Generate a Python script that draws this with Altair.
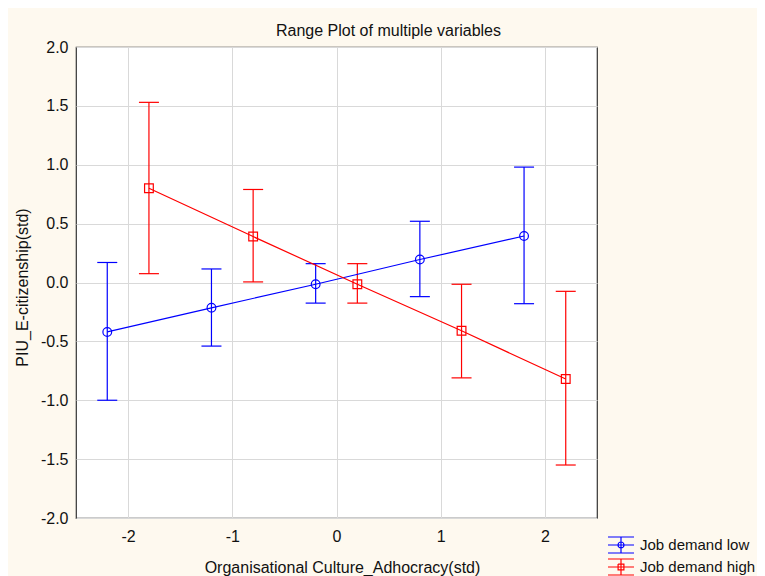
import altair as alt
import pandas as pd

# ---- data ----
series_names = ["Job demand low", "Job demand high"]
series_colors = ["#0000FF", "#FF0000"]

x_low = [-2.2, -1.2, -0.2, 0.8, 1.8]
mean_low = [-0.42, -0.215, -0.015, 0.195, 0.395]
upper_low = [0.17, 0.115, 0.16, 0.52, 0.98]
lower_low = [-1.0, -0.54, -0.175, -0.12, -0.18]

x_high = [-1.8, -0.8, 0.2, 1.2, 2.2]
mean_high = [0.80, 0.39, -0.015, -0.41, -0.82]
upper_high = [1.53, 0.79, 0.16, -0.015, -0.075]
lower_high = [0.075, 0.005, -0.175, -0.81, -1.55]

x_ticks = [-2, -1, 0, 1, 2]
y_ticks = [-2.0, -1.5, -1.0, -0.5, 0.0, 0.5, 1.0, 1.5, 2.0]

title_text = "Range Plot of multiple variables"
x_title = "Organisational Culture_Adhocracy(std)"
y_title = "PIU_E-citizenship(std)"

rows = []
for name, xs, ms, us, ls in [
    (series_names[0], x_low, mean_low, upper_low, lower_low),
    (series_names[1], x_high, mean_high, upper_high, lower_high),
]:
    for x, m, u, l in zip(xs, ms, us, ls):
        rows.append({"series": name, "x": x, "mean": m, "hi": u, "lo": l})
df = pd.DataFrame(rows)

FONT = "Liberation Sans"

# legend glyphs: cap lines, center line, vertical bar, marker
glyph_low = ("M-1.3,-0.8H1.3M-1.3,0.8H1.3M-1.3,0H1.3M0,-0.8V0.8"
             "M0.3,0A0.3,0.3 0 1,1 -0.3,0A0.3,0.3 0 1,1 0.3,0")
glyph_high = ("M-1.3,-0.8H1.3M-1.3,0.8H1.3M-1.3,0H1.3M0,-0.8V0.8"
              "M-0.29,-0.29H0.29V0.29H-0.29V-0.29")

xenc = alt.X(
    "x:Q",
    scale=alt.Scale(domain=[-2.5, 2.5], nice=False, zero=False),
    axis=alt.Axis(
        values=x_ticks,
        title=x_title,
        labelExpr="(datum.value < 0 ? '-' : '') + format(abs(datum.value), 'd')",
        labelPadding=10,
        titleX=266,
        titleY=49,
        titleAlign="center",
        titleBaseline="middle",
    ),
)
yscale = alt.Scale(domain=[-2, 2], nice=False, zero=False)
yaxis = alt.Axis(
    values=y_ticks,
    title=y_title,
    labelExpr="(datum.value < 0 ? '-' : '') + format(abs(datum.value), '.1f')",
    labelPadding=8,
    titleX=-54,
    titleY=240,
    titleAngle=270,
    titleAlign="center",
    titleBaseline="middle",
)
color_scale = alt.Scale(domain=series_names, range=series_colors)
legend = alt.Legend(
    title=None,
    orient="none",
    legendX=534,
    legendY=487,
    symbolSize=400,
    symbolStrokeWidth=1.2,
    symbolOpacity=1,
    labelFont=FONT,
    labelFontSize=15,
    labelColor="#111111",
    labelOffset=8,
    rowPadding=0,
    padding=0,
)

base = alt.Chart(df)
color_enc = alt.Color("series:N", scale=color_scale)

rules = base.mark_rule(strokeWidth=1.2).encode(
    x=xenc, y=alt.Y("lo:Q", scale=yscale, axis=yaxis), y2="hi:Q", color=color_enc
)
cap_hi = base.mark_rule(strokeWidth=1.2, xOffset=-10, x2Offset=10).encode(
    x=xenc, x2="x:Q", y=alt.Y("hi:Q", scale=yscale), color=color_enc
)
cap_lo = base.mark_rule(strokeWidth=1.2, xOffset=-10, x2Offset=10).encode(
    x=xenc, x2="x:Q", y=alt.Y("lo:Q", scale=yscale), color=color_enc
)
lines = base.mark_line(strokeWidth=1.2).encode(
    x=xenc, y=alt.Y("mean:Q", scale=yscale), color=color_enc, detail="series:N",
    order="x:Q",
)
pts_low = base.transform_filter(alt.datum.series == series_names[0]).mark_point(
    shape="circle", filled=False, size=76, strokeWidth=1.2, opacity=1
).encode(x=xenc, y=alt.Y("mean:Q", scale=yscale), color=color_enc)
pts_high = base.transform_filter(alt.datum.series == series_names[1]).mark_point(
    shape="square", filled=False, size=76, strokeWidth=1.2, opacity=1
).encode(x=xenc, y=alt.Y("mean:Q", scale=yscale), color=color_enc)

legend_layer = base.mark_point(filled=False, opacity=0).encode(
    x=xenc,
    y=alt.Y("mean:Q", scale=yscale),
    color=alt.Color("series:N", scale=color_scale, legend=legend),
    shape=alt.Shape(
        "series:N",
        scale=alt.Scale(domain=series_names, range=[glyph_low, glyph_high]),
        legend=legend,
    ),
)

chart = (
    alt.layer(legend_layer, rules, cap_hi, cap_lo, lines, pts_low, pts_high)
    .properties(
        width=521,
        height=471,
        title=alt.TitleParams(
            title_text,
            font=FONT,
            fontSize=16,
            fontWeight="normal",
            color="#111111",
            anchor="middle",
            dx=52,
            offset=0,
        ),
        autosize=alt.AutoSizeParams(type="none"),
        padding={"left": 68, "top": 39, "right": 160, "bottom": 58},
        background="#FEF9EF",
    )
    .configure_view(fill="white", stroke="#333333", strokeWidth=1.2)
    .configure_axis(
        labelFont=FONT,
        labelFontSize=16,
        labelColor="#111111",
        titleFont=FONT,
        titleFontSize=16,
        titleFontWeight="normal",
        titleColor="#111111",
        gridColor="#D9D9D9",
        gridWidth=1,
        domain=False,
        ticks=False,
    )
)

chart.save("out.html", embed_options={"renderer": "svg", "actions": False})
